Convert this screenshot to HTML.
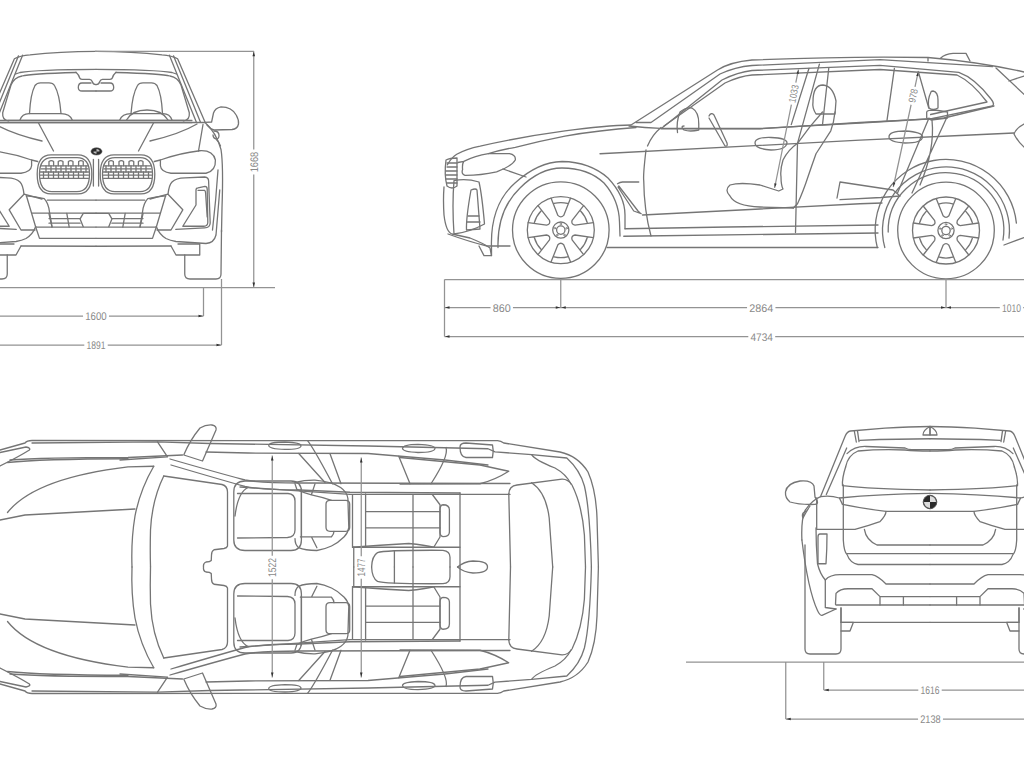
<!DOCTYPE html>
<html><head><meta charset="utf-8"><style>
html,body{margin:0;padding:0;background:#fff;}
svg{display:block}
.c{fill:none;stroke:#757575;stroke-width:1.3;stroke-linejoin:round;stroke-linecap:round}
.c path,.c circle,.c ellipse{fill:none}
.d{fill:none;stroke:#939393;stroke-width:1.25}
.t{font-family:"Liberation Sans",sans-serif;font-size:11px;fill:#8a8a8a;text-anchor:middle;text-rendering:geometricPrecision}
</style></head><body>
<svg width="1024" height="768" viewBox="0 0 1024 768">
<g>
<g class="c">
<path d="M96 51.3 C130 51.6 150 53.5 162 54.8 Q172 55.5 177.6 58.8 L205.1 122.3"/>
<path d="M169.4 55.2 L196.3 122"/>
<path d="M173.5 55.8 L200.4 122"/>
<path d="M96 69.4 C130 69.6 160 70.5 172 72.5 L176.4 74"/>
<path d="M116 72.5 C145 73.3 163 74 170 76 Q178 77.5 181 85 L189.3 112.7 Q190 120 183.4 120.9"/>
<path d="M116 72.3 Q113 75 112.3 78 Q112 79.3 110 79.3 L102.5 79.3 Q100.5 79.5 99.8 81.5 Q99 84.5 96 84.6"/>
<path d="M96 91 L110 91 Q113.7 91 113.7 87.5 Q113.7 83 110 83 L101 83"/>
<path d="M131 113.5 Q132.5 94 137.5 85.5 Q139 82.8 143 82.8 L151.5 82.8 Q155 82.8 157 85.5 Q161.5 94 162.5 113.5"/>
<path d="M119.75 120 Q122 114 131 113.7 L163 113.7 Q170 114 172 120"/>
<path d="M0 120.3 L184 120.3"/>
<path d="M0 122.5 L205 122.5"/>
<path d="M153.5 123 L138.5 151"/>
<path d="M150 141 Q180 134 197 124"/>
<path d="M100.2 174 Q100.2 154.8 114 154.8 L141 154.8 Q154.8 154.8 154.8 174 Q154.8 193.9 141 193.9 L114 193.9 Q100.2 193.9 100.2 174 Z"/>
<path d="M102.5 174 Q102.5 157.6 115 157.6 L140 157.6 Q152.5 157.6 152.5 174 Q152.5 191.6 140 191.6 L115 191.6 Q102.5 191.6 102.5 174 Z"/>
<path d="M104 165.8 L151 165.8 M103.5 172 L151.5 172 M103.5 178.3 L151.5 178.3 M104 168.9 L151 168.9 M103.5 175.2 L151.5 175.2"/>
<path d="M108.75 165.8 L108.75 161.5 Q111 159.8 113.4 161.5 L113.4 165.8 M119 165.8 L119 161.5 Q121.3 159.8 123.6 161.5 L123.6 165.8 M129 165.8 L129 161.5 Q131.4 159.8 133.75 161.5 L133.75 165.8 M138.4 165.8 L138.4 161.5 Q140.7 159.8 143 161.5 L143 165.8"/>
<path d="M106 165.8 L106 172 M111 165.8 L111 172 M116 165.8 L116 172 M121 165.8 L121 172 M126 165.8 L126 172 M131 165.8 L131 172 M136 165.8 L136 172 M141 165.8 L141 172 M146 165.8 L146 172"/>
<path d="M108.5 172 L108.5 178.3 M113.5 172 L113.5 178.3 M118.5 172 L118.5 178.3 M123.5 172 L123.5 178.3 M128.5 172 L128.5 178.3 M133.5 172 L133.5 178.3 M138.5 172 L138.5 178.3 M143.5 172 L143.5 178.3 M148.5 172 L148.5 178.3"/>
<path d="M98.6 159.5 L98.6 186"/>
<path d="M154.3 161.5 L160.4 160"/>
<path d="M160.4 160 Q180 153 199.75 150.75 Q213 150 215.4 160 Q216 171 206 173.25 L171 173.25 Q161 172 160.4 165.75 Z"/>
<path d="M198.5 151 L203 124.5"/>
<path d="M205 122.5 Q216 132 221 149.5 Q223.5 165 222 208 L221.5 232"/>
<path d="M214 131 Q219 131 219 135.5 Q219 139 216 139 Q213 138 213 135 M216 139 Q219 142 220.5 146"/>
<path d="M205.1 122.3 L211.6 122 L213.5 113 Q215 108 221 106.8 Q232 107 236.2 115 Q239 120 238.5 124 Q237.5 129 232 129.5 L214 130 Q210 129 207 125"/>
<path d="M218 170 Q216 200 212.5 230"/>
<path d="M168 194.2 Q169 185 172 182 Q176 178 185 177.8 L204.7 177 Q208.6 177.5 208.6 181 L210.2 223 Q210 227.8 204.7 227.8 L175.8 229.4"/>
<path d="M196 205 L196 190 Q196 188 198 187.8 L205 186.4 Q207 186.5 207.2 189 L207.8 222.5 Q207.5 226.25 204 226.25 L182.8 226.25 L196 205"/>
<path d="M198 190.3 L204.5 190.3 Q205.5 191 205.6 193 L207.2 216.9"/>
<path d="M150 199 L168 194.2 L182.8 209.8 L171 230 L157 230"/>
<path d="M165.6 195.8 L156.4 226.7"/>
<path d="M96 200.2 L144.7 200.2"/>
<path d="M147.8 198.6 Q157 196.5 165.8 195.9 M147.8 198.6 Q143.5 203 142.5 212 L140 226.7"/>
<path d="M96 213.2 L160.3 213.2 M111.9 218.6 L143 218.6 M111.9 223.2 L143 223.2 M96 227.1 L156.4 227.1"/>
<path d="M96 213.4 L108.75 213.4 L111.9 218.9 L108.75 226.7"/>
<path d="M125.2 213.4 L122.8 227.1 M143.1 213.4 L140 227.1"/>
<path d="M96 238.4 L152.5 238.4 L156.4 226.7"/>
<path d="M156.4 226.7 Q159 234 166 238.5 Q170 240.5 176 241.5 L206 243.5 Q214 243 216 235 L219.75 190"/>
<path d="M96 246.25 L171 246"/>
<path d="M171 246 L176 255 L199.75 255 L199.75 244 L178 244"/>
<path d="M184.75 255 L184.75 274 Q184.75 279 190 279 L216 279 Q221 279 221 274 L221.5 230"/>
<path d="M126.5 120 Q132 110 147 110 Q162 110 168 120"/></g>
<g class="c" transform="matrix(-1 0 0 1 192 0)">
<path d="M96 51.3 C130 51.6 150 53.5 162 54.8 Q172 55.5 177.6 58.8 L205.1 122.3"/>
<path d="M169.4 55.2 L196.3 122"/>
<path d="M173.5 55.8 L200.4 122"/>
<path d="M96 69.4 C130 69.6 160 70.5 172 72.5 L176.4 74"/>
<path d="M116 72.5 C145 73.3 163 74 170 76 Q178 77.5 181 85 L189.3 112.7 Q190 120 183.4 120.9"/>
<path d="M116 72.3 Q113 75 112.3 78 Q112 79.3 110 79.3 L102.5 79.3 Q100.5 79.5 99.8 81.5 Q99 84.5 96 84.6"/>
<path d="M96 91 L110 91 Q113.7 91 113.7 87.5 Q113.7 83 110 83 L101 83"/>
<path d="M131 113.5 Q132.5 94 137.5 85.5 Q139 82.8 143 82.8 L151.5 82.8 Q155 82.8 157 85.5 Q161.5 94 162.5 113.5"/>
<path d="M119.75 120 Q122 114 131 113.7 L163 113.7 Q170 114 172 120"/>
<path d="M0 120.3 L184 120.3"/>
<path d="M0 122.5 L205 122.5"/>
<path d="M153.5 123 L138.5 151"/>
<path d="M150 141 Q180 134 197 124"/>
<path d="M100.2 174 Q100.2 154.8 114 154.8 L141 154.8 Q154.8 154.8 154.8 174 Q154.8 193.9 141 193.9 L114 193.9 Q100.2 193.9 100.2 174 Z"/>
<path d="M102.5 174 Q102.5 157.6 115 157.6 L140 157.6 Q152.5 157.6 152.5 174 Q152.5 191.6 140 191.6 L115 191.6 Q102.5 191.6 102.5 174 Z"/>
<path d="M104 165.8 L151 165.8 M103.5 172 L151.5 172 M103.5 178.3 L151.5 178.3 M104 168.9 L151 168.9 M103.5 175.2 L151.5 175.2"/>
<path d="M108.75 165.8 L108.75 161.5 Q111 159.8 113.4 161.5 L113.4 165.8 M119 165.8 L119 161.5 Q121.3 159.8 123.6 161.5 L123.6 165.8 M129 165.8 L129 161.5 Q131.4 159.8 133.75 161.5 L133.75 165.8 M138.4 165.8 L138.4 161.5 Q140.7 159.8 143 161.5 L143 165.8"/>
<path d="M106 165.8 L106 172 M111 165.8 L111 172 M116 165.8 L116 172 M121 165.8 L121 172 M126 165.8 L126 172 M131 165.8 L131 172 M136 165.8 L136 172 M141 165.8 L141 172 M146 165.8 L146 172"/>
<path d="M108.5 172 L108.5 178.3 M113.5 172 L113.5 178.3 M118.5 172 L118.5 178.3 M123.5 172 L123.5 178.3 M128.5 172 L128.5 178.3 M133.5 172 L133.5 178.3 M138.5 172 L138.5 178.3 M143.5 172 L143.5 178.3 M148.5 172 L148.5 178.3"/>
<path d="M98.6 159.5 L98.6 186"/>
<path d="M154.3 161.5 L160.4 160"/>
<path d="M160.4 160 Q180 153 199.75 150.75 Q213 150 215.4 160 Q216 171 206 173.25 L171 173.25 Q161 172 160.4 165.75 Z"/>
<path d="M198.5 151 L203 124.5"/>
<path d="M205 122.5 Q216 132 221 149.5 Q223.5 165 222 208 L221.5 232"/>
<path d="M214 131 Q219 131 219 135.5 Q219 139 216 139 Q213 138 213 135 M216 139 Q219 142 220.5 146"/>
<path d="M205.1 122.3 L211.6 122 L213.5 113 Q215 108 221 106.8 Q232 107 236.2 115 Q239 120 238.5 124 Q237.5 129 232 129.5 L214 130 Q210 129 207 125"/>
<path d="M218 170 Q216 200 212.5 230"/>
<path d="M168 194.2 Q169 185 172 182 Q176 178 185 177.8 L204.7 177 Q208.6 177.5 208.6 181 L210.2 223 Q210 227.8 204.7 227.8 L175.8 229.4"/>
<path d="M196 205 L196 190 Q196 188 198 187.8 L205 186.4 Q207 186.5 207.2 189 L207.8 222.5 Q207.5 226.25 204 226.25 L182.8 226.25 L196 205"/>
<path d="M198 190.3 L204.5 190.3 Q205.5 191 205.6 193 L207.2 216.9"/>
<path d="M150 199 L168 194.2 L182.8 209.8 L171 230 L157 230"/>
<path d="M165.6 195.8 L156.4 226.7"/>
<path d="M96 200.2 L144.7 200.2"/>
<path d="M147.8 198.6 Q157 196.5 165.8 195.9 M147.8 198.6 Q143.5 203 142.5 212 L140 226.7"/>
<path d="M96 213.2 L160.3 213.2 M111.9 218.6 L143 218.6 M111.9 223.2 L143 223.2 M96 227.1 L156.4 227.1"/>
<path d="M96 213.4 L108.75 213.4 L111.9 218.9 L108.75 226.7"/>
<path d="M125.2 213.4 L122.8 227.1 M143.1 213.4 L140 227.1"/>
<path d="M96 238.4 L152.5 238.4 L156.4 226.7"/>
<path d="M156.4 226.7 Q159 234 166 238.5 Q170 240.5 176 241.5 L206 243.5 Q214 243 216 235 L219.75 190"/>
<path d="M96 246.25 L171 246"/>
<path d="M171 246 L176 255 L199.75 255 L199.75 244 L178 244"/>
<path d="M184.75 255 L184.75 274 Q184.75 279 190 279 L216 279 Q221 279 221 274 L221.5 230"/>
</g>
<ellipse cx="96.5" cy="151.4" rx="5.5" ry="3.6" fill="#2a2a2a" stroke="#555" stroke-width="0.6"/><path d="M96.5 149 A3 2 0 0 1 99.5 151.4 L96.5 151.4Z M96.5 153.8 A3 2 0 0 1 93.5 151.4 L96.5 151.4Z" fill="#bbb"/>
<g class="c"><circle cx="560.8" cy="230.1" r="48.3"/><circle cx="560.8" cy="230.1" r="33.5"/><circle cx="560.8" cy="230.1" r="8.1"/><circle cx="560.8" cy="230.1" r="4.2"/><circle cx="560.80" cy="224.00" r="0.8" style="stroke-width:0.8"/><circle cx="566.60" cy="228.21" r="0.8" style="stroke-width:0.8"/><circle cx="564.39" cy="235.04" r="0.8" style="stroke-width:0.8"/><circle cx="557.21" cy="235.04" r="0.8" style="stroke-width:0.8"/><circle cx="555.00" cy="228.21" r="0.8" style="stroke-width:0.8"/><path d="M551.0 198.1 L557.9 215.4 Q560.8 218.5 563.7 215.4 L570.6 198.1 M554.1 203.4 A27.5 27.5 0 0 1 567.5 203.4"/><path d="M583.6 205.6 L572.1 220.3 Q570.8 224.3 575.0 225.2 L593.4 222.6 M580.6 211.0 A27.5 27.5 0 0 1 587.2 222.5"/><path d="M593.4 237.6 L575.0 235.0 Q570.8 235.9 572.1 239.9 L583.6 254.6 M587.2 237.7 A27.5 27.5 0 0 1 580.6 249.2"/><path d="M570.6 262.1 L563.7 244.8 Q560.8 241.7 557.9 244.8 L551.0 262.1 M567.5 256.8 A27.5 27.5 0 0 1 554.1 256.8"/><path d="M538.0 254.6 L549.5 239.9 Q550.8 235.9 546.6 235.0 L528.2 237.6 M541.0 249.2 A27.5 27.5 0 0 1 534.4 237.7"/><path d="M528.2 222.6 L546.6 225.2 Q550.8 224.3 549.5 220.3 L538.0 205.6 M534.4 222.5 A27.5 27.5 0 0 1 541.0 211.0"/><circle cx="946" cy="230.5" r="48.3"/><circle cx="946" cy="230.5" r="33.5"/><circle cx="946" cy="230.5" r="8.1"/><circle cx="946" cy="230.5" r="4.2"/><circle cx="946.00" cy="224.40" r="0.8" style="stroke-width:0.8"/><circle cx="951.80" cy="228.61" r="0.8" style="stroke-width:0.8"/><circle cx="949.59" cy="235.44" r="0.8" style="stroke-width:0.8"/><circle cx="942.41" cy="235.44" r="0.8" style="stroke-width:0.8"/><circle cx="940.20" cy="228.61" r="0.8" style="stroke-width:0.8"/><path d="M936.2 198.5 L943.1 215.8 Q946.0 218.9 948.9 215.8 L955.8 198.5 M939.3 203.8 A27.5 27.5 0 0 1 952.7 203.8"/><path d="M968.8 206.0 L957.3 220.7 Q956.0 224.7 960.2 225.6 L978.6 223.0 M965.8 211.4 A27.5 27.5 0 0 1 972.4 222.9"/><path d="M978.6 238.0 L960.2 235.4 Q956.0 236.3 957.3 240.3 L968.8 255.0 M972.4 238.1 A27.5 27.5 0 0 1 965.8 249.6"/><path d="M955.8 262.5 L948.9 245.2 Q946.0 242.1 943.1 245.2 L936.2 262.5 M952.7 257.2 A27.5 27.5 0 0 1 939.3 257.2"/><path d="M923.2 255.0 L934.7 240.3 Q936.0 236.3 931.8 235.4 L913.4 238.0 M926.2 249.6 A27.5 27.5 0 0 1 919.6 238.1"/><path d="M913.4 223.0 L931.8 225.6 Q936.0 224.7 934.7 220.7 L923.2 206.0 M919.6 222.9 A27.5 27.5 0 0 1 926.2 211.4"/></g>
<g class="c">
<path d="M447.3 164.9 Q452 157 456.7 154.3 Q466 149 480.2 146.1 Q520 137 565 130.9 Q605 125.5 631 125 L717.5 70 Q730 62 752 60 Q850 56 928 57.5 Q980 62 1024 72"/>
<path d="M488.4 153.7 Q500 150 515.3 147.3 Q540 141 565 136.1 Q600 130 636 127.5"/>
<path d="M636 122.5 Q645 122.5 651 122.5 L720 74 Q735 67 752 65.5 L880 59.7 L992.5 66.7"/>
<path d="M661 128.75 L722 80 Q738 72 752 70.5 L880 65.3 L958.8 72.3 Q975 78 991 99 Q995 104 992.5 106 L930.6 118.8 L860 122.5 L760 128.75 L661 128.75"/>
<path d="M664 126 L725 83 Q740 76 752 75 L880 69.5 L957 75 Q972 82 987 102 L930.6 114.5"/>
<path d="M940.5 58.3 Q945 54 953 53.4 L966 53.4 L970 61"/>
<path d="M928 57.6 L928 61"/>
<path d="M629 126 Q645 128 660.6 128.4 L760 128.5 L860 123 L944 118 L994 106"/>
<path d="M600 153.75 L760 145.4 L860 140.2 L960 135.5 L1014 133"/>
<path d="M996 68 L1024 94.3 M1009 81 L1024 76"/>
<path d="M1024 124 Q1016 128 1014 134 Q1018 142 1024 147"/>
<path d="M503 169 L526 177"/>
<path d="M463.8 161.3 Q475 156 488.4 153.7 L509.5 153.7 Q516 155 515.3 160 Q512 166 496.6 171.9 Q480 175.5 465 175.4 Q461 174 462.6 169.5 Q462 164 463.8 161.3Z M457.9 162.5 L463.8 161.3"/>
<path d="M446 160 Q450 158 457 158 L457 186 Q452 190 447 186 Q444 175 446 160 Z"/>
<path d="M447 163 L457 163 M447 167 L457 167 M446 171 L457 171 M446 175 L457 175 M446 179 L457 179 M447 183 L457 183"/>
<path d="M444 187 Q443 200 444 215 Q446 232 452 234 L470 238 Q485 244 490 248 L491.5 255.6 L484 255.6 L479 246"/>
<path d="M454 180.6 Q466 178 479 182 Q482 195 484.5 224 Q470 232 454 234 Q452 205 454 180.6Z"/>
<path d="M471 190 Q476 188 477 190 L480 229 L466.5 230 Q466 218 471 190Z"/>
<path d="M468 216 L479 216 M467 222 L480 222"/>
<path d="M448 234 Q470 242 487 246 L510 246"/>
<path d="M491.5 255.6 L491.5 247.5 Q490 205 515 183 Q538 162 562 161.5 Q590 162 608 178 Q625 196 625 215 L625 228.75"/>
<path d="M498 247.5 Q497 210 520 188 Q540 168 562 168 Q588 168 604 183 Q619 200 619.5 222 L620 236"/>
<path d="M625 228.75 L728 227 L878 225"/>
<path d="M623.75 236.25 L878 233"/>
<path d="M607 247.5 L878 247.5 M1004 245 L1024 237.5"/>
<path d="M617.5 183.75 Q620 182 622.5 182 L638.75 182 M618.75 186 L638 211 Q641 214 641.25 213.75 L633.75 211 L618 187"/>
<path d="M646 150 Q643 175 643.75 181 Q644 210 651 236"/>
<path d="M642.5 215 L760 209 L860 203.75 L882 203"/>
<path d="M647.5 146 Q652 135 661 127.5"/>
<path d="M677.5 132.5 Q676 122 680 112 Q686 107 692 108 Q699 112 698.75 124 L698.75 130 Q690 132 684 130 Q680 126 684 126"/>
<path d="M709 116 Q711 112 714 115 L727 143 Q728 147 725 146 L709 118"/>
<path d="M755 143 Q755 137 771 137.5 Q787 138 787 143 Q786 150 771 150 Q755 149 755 143Z"/>
<path d="M819.4 64.2 L797.5 143.3 L795.5 232.5"/>
<path d="M809 68.3 L791.25 124.6"/>
<path d="M828.75 68.3 L822.5 124.6"/>
<path d="M813 101.7 Q813 85 823 85 Q833 86 836 101 L835 114 L816 114 Q812 108 813 101.7Z"/>
<path d="M835 112 Q834 122 830.8 130.8 L816 153.75 Q812 165 808 176.7 Q803 192 797.5 203.75 L793.3 208"/>
<path d="M822.5 112 L810 126.7 L797.5 143.3 Q788 150 783 160 Q780 170 781 176.7 Q781 185 783 189 L778.75 191 L760 185 Q740 182 730 185 Q724 190 730 196 Q735 206 760 207 L793.3 208"/>
<path d="M887 120.4 L894.4 68.3"/>
<path d="M931 92 Q931 91 933 91 Q938 92 938 100 L938 108 Q933 111 929 108 Q927 100 931 92Z"/>
<path d="M918.3 71.5 L928.75 108"/>
<path d="M926.7 112 Q927 110 935 110 L947.5 112 L947.5 118 L931 120 L926.7 118Z"/>
<path d="M929 118 L897.5 193 M947.5 116 L912 193 M932 120 Q935 150 920 185"/>
<path d="M889 137 Q889 131 905 131 Q922.5 132 922.5 137 Q922 143 905 143 Q889 142 889 137Z"/>
<path d="M837 198 L840 182 L893 190 L900 196 L881 197.5 L840 199.6"/>
<path d="M877.3 247.5 A70.8 70.8 0 1 1 1016.4 223.1"/>
<path d="M884.8 247.5 A63.5 63.5 0 1 1 1009.0 238.2"/>
<path d="M888.2 232.0 A57.8 57.8 0 1 1 1003.0 240.0"/>
</g>
<g class="c">
<path d="M0 450 L25 443 Q27 440.5 32 440.5 L497.5 440.6 Q501 441 503.75 443 L560 452 Q578 456 588 472 Q596 490 597 518 L598.4 567"/>
<path d="M0 452.5 L26 447 Q31 448 29.4 450 Q20 456 0 466"/>
<path d="M10 460 Q40 457.5 128 457.5 L182.5 455"/>
<path d="M7.5 462.5 Q40 459 128 458.75"/>
<path d="M32 443 L157.5 441.9 L210 443.5 L368 446 L488 448.75 L495 451.9 L531.6 454.6 L566.8 458 Q580 470 584.4 486 Q590 510 591.4 567"/>
<path d="M531.6 454.6 Q535 460 555 468 Q566 474 571 484"/>
<path d="M206 452 L248 453 L368 453.5 L445 460 L488 465"/>
<path d="M480 465 L508.75 471.25 Q495 480 480 483.75 L400 484 M400 457.5 L480 465"/>
<path d="M7.5 512.5 Q35 478 128 466.9 L153.75 466.25"/>
<path d="M0 520 L25 515 L135 509"/>
<path d="M157.5 441.9 L167.5 456.9 L120 460"/>
<path d="M153.75 466.25 Q140 490 135 516 Q131 540 132 567"/>
<path d="M163.75 476 Q152 500 150.5 530 Q150 550 150.5 567"/>
<path d="M163.75 476 L222 484.5 Q227.5 486 227.5 492 L227.5 546 Q227 548 224 548.5 L214 549.75 Q211.5 551 211.5 555 L211.25 560.5 Q210 562 206 562 Q203 563 203.5 567"/>
<path d="M170 459 Q215 472 245 480 Q260 483 300 483 L510 483.5"/>
<path d="M171 465 Q215 478 245 486.5 Q262 490 300 490 L350 492.25 L460 493"/>
<path d="M183.75 455 Q190 440 200 428 Q206 424.5 212 425 Q217 426 216 430 L202.5 461 Z"/>
<path d="M268.75 445.5 Q269 442 285 442 Q301 442.5 301 446 Q300.5 449.4 285 449.4 Q269 449 268.75 445.5Z"/>
<path d="M402.5 448.5 Q403 444.4 418 444.4 Q435 445 435 448.5 Q434.5 452.5 418 452.5 Q403 452 402.5 448.5Z"/>
<path d="M460 447 Q460 443 466 443 L492.5 445 Q494 451 492.5 457.5 L466 457.5 Q460 457 460 447Z"/>
<path d="M298.75 453.5 L325 482.5 M307.5 440.6 Q313 447 332.5 483.75 M330 453.75 L341 483.75"/>
<path d="M398.75 456.25 L410 483.75 M446 447.5 Q449 456 431 483.75"/>
<path d="M235 516 Q238 492 248 487.5"/>
<path d="M240 487 L350 494.4 L510 494.4"/>
<path d="M508.8 494 Q509 486 517 485 L562 479.2 Q568 479 572 485 Q582 505 584.4 535 L585.5 567"/>
<path d="M508.8 494 L510.5 567"/>
<path d="M531.6 482.7 Q546 492 549.2 518 L552.7 567"/>
<path d="M245 481 L291 481 Q301.4 481 301.4 492 L301.4 540 Q301.4 550.5 291 550.5 L245 550.5 Q233.8 550.5 233.8 540 L233.8 492 Q233.8 481 245 481Z"/>
<path d="M237.5 493.5 L288 493.5 Q295 494 295 501 L295 530 Q295 537 287.5 537.5 L237.5 538"/>
<path d="M295 482.5 Q305 480 315 480.2 Q333 482 340.6 487.5 Q347 492 347.9 498.5 L348.8 527.7 Q348 533 344.2 536.8 Q338 543 331.5 546 Q324 549.5 316.9 550.5 Q305 550.5 298.6 547.7 Q295 545 295 538.6"/>
<path d="M295 483.9 L296.8 489.3 Q304 493 311.4 494.8 L315 483.9 M311.4 494.8 Q322 497 331.5 500.3"/>
<path d="M330 500.3 L345.7 500.3 Q349.7 500.3 349.7 504.3 L349.7 527.3 Q349.7 531.3 345.7 531.3 L330 531.3 Q326 531.3 326 527.3 L326 504.3 Q326 500.3 330 500.3Z"/>
<path d="M300.4 536.8 L311.4 536.8 L316.9 547.7 M311.4 536.8 Q322 537 331.5 536.8 Q334 534 334 531.3"/>
<path d="M301.4 489 L301.4 538"/>
<path d="M352.5 494.75 L352.5 547.25 L460 547.25"/>
<path d="M365.6 494 L365.6 547.25"/>
<path d="M460 493 L460 567"/>
<path d="M365.6 511.6 L440 511.6 M365.6 527.9 L440 527.9"/>
<path d="M413 494.75 L413 567"/>
<path d="M432.5 494.75 L440 504.75 L440 537 L433.75 547.25"/>
<path d="M443 504.75 Q449.4 504.75 449.4 510 L449.4 532 Q449.4 536.6 443 536.6 Q440 536 440 532 L440 510 Q440 505 443 504.75Z"/>
<path d="M352.5 547.25 Q380 545 408.75 543.5 Q425 545 433.75 547.25"/>
<path d="M353.75 547.25 L353.75 567"/>
<path d="M371.6 567 Q372 556 377.5 552.6 Q385 550 443 550.3 Q450 551 450 557.3 L450 567"/>
<path d="M394.4 551 L394.4 567"/>
<path d="M457.5 567 Q464 561.5 473 561 Q487.5 561 487.5 567"/>
</g>
<g class="c" transform="matrix(1 0 0 -1 0 1134)">
<path d="M0 450 L25 443 Q27 440.5 32 440.5 L497.5 440.6 Q501 441 503.75 443 L560 452 Q578 456 588 472 Q596 490 597 518 L598.4 567"/>
<path d="M0 452.5 L26 447 Q31 448 29.4 450 Q20 456 0 466"/>
<path d="M10 460 Q40 457.5 128 457.5 L182.5 455"/>
<path d="M7.5 462.5 Q40 459 128 458.75"/>
<path d="M32 443 L157.5 441.9 L210 443.5 L368 446 L488 448.75 L495 451.9 L531.6 454.6 L566.8 458 Q580 470 584.4 486 Q590 510 591.4 567"/>
<path d="M531.6 454.6 Q535 460 555 468 Q566 474 571 484"/>
<path d="M206 452 L248 453 L368 453.5 L445 460 L488 465"/>
<path d="M480 465 L508.75 471.25 Q495 480 480 483.75 L400 484 M400 457.5 L480 465"/>
<path d="M7.5 512.5 Q35 478 128 466.9 L153.75 466.25"/>
<path d="M0 520 L25 515 L135 509"/>
<path d="M157.5 441.9 L167.5 456.9 L120 460"/>
<path d="M153.75 466.25 Q140 490 135 516 Q131 540 132 567"/>
<path d="M163.75 476 Q152 500 150.5 530 Q150 550 150.5 567"/>
<path d="M163.75 476 L222 484.5 Q227.5 486 227.5 492 L227.5 546 Q227 548 224 548.5 L214 549.75 Q211.5 551 211.5 555 L211.25 560.5 Q210 562 206 562 Q203 563 203.5 567"/>
<path d="M170 459 Q215 472 245 480 Q260 483 300 483 L510 483.5"/>
<path d="M171 465 Q215 478 245 486.5 Q262 490 300 490 L350 492.25 L460 493"/>
<path d="M183.75 455 Q190 440 200 428 Q206 424.5 212 425 Q217 426 216 430 L202.5 461 Z"/>
<path d="M268.75 445.5 Q269 442 285 442 Q301 442.5 301 446 Q300.5 449.4 285 449.4 Q269 449 268.75 445.5Z"/>
<path d="M402.5 448.5 Q403 444.4 418 444.4 Q435 445 435 448.5 Q434.5 452.5 418 452.5 Q403 452 402.5 448.5Z"/>
<path d="M460 447 Q460 443 466 443 L492.5 445 Q494 451 492.5 457.5 L466 457.5 Q460 457 460 447Z"/>
<path d="M298.75 453.5 L325 482.5 M307.5 440.6 Q313 447 332.5 483.75 M330 453.75 L341 483.75"/>
<path d="M398.75 456.25 L410 483.75 M446 447.5 Q449 456 431 483.75"/>
<path d="M235 516 Q238 492 248 487.5"/>
<path d="M240 487 L350 494.4 L510 494.4"/>
<path d="M508.8 494 Q509 486 517 485 L562 479.2 Q568 479 572 485 Q582 505 584.4 535 L585.5 567"/>
<path d="M508.8 494 L510.5 567"/>
<path d="M531.6 482.7 Q546 492 549.2 518 L552.7 567"/>
<path d="M245 481 L291 481 Q301.4 481 301.4 492 L301.4 540 Q301.4 550.5 291 550.5 L245 550.5 Q233.8 550.5 233.8 540 L233.8 492 Q233.8 481 245 481Z"/>
<path d="M237.5 493.5 L288 493.5 Q295 494 295 501 L295 530 Q295 537 287.5 537.5 L237.5 538"/>
<path d="M295 482.5 Q305 480 315 480.2 Q333 482 340.6 487.5 Q347 492 347.9 498.5 L348.8 527.7 Q348 533 344.2 536.8 Q338 543 331.5 546 Q324 549.5 316.9 550.5 Q305 550.5 298.6 547.7 Q295 545 295 538.6"/>
<path d="M295 483.9 L296.8 489.3 Q304 493 311.4 494.8 L315 483.9 M311.4 494.8 Q322 497 331.5 500.3"/>
<path d="M330 500.3 L345.7 500.3 Q349.7 500.3 349.7 504.3 L349.7 527.3 Q349.7 531.3 345.7 531.3 L330 531.3 Q326 531.3 326 527.3 L326 504.3 Q326 500.3 330 500.3Z"/>
<path d="M300.4 536.8 L311.4 536.8 L316.9 547.7 M311.4 536.8 Q322 537 331.5 536.8 Q334 534 334 531.3"/>
<path d="M301.4 489 L301.4 538"/>
<path d="M352.5 494.75 L352.5 547.25 L460 547.25"/>
<path d="M365.6 494 L365.6 547.25"/>
<path d="M460 493 L460 567"/>
<path d="M365.6 511.6 L440 511.6 M365.6 527.9 L440 527.9"/>
<path d="M413 494.75 L413 567"/>
<path d="M432.5 494.75 L440 504.75 L440 537 L433.75 547.25"/>
<path d="M443 504.75 Q449.4 504.75 449.4 510 L449.4 532 Q449.4 536.6 443 536.6 Q440 536 440 532 L440 510 Q440 505 443 504.75Z"/>
<path d="M352.5 547.25 Q380 545 408.75 543.5 Q425 545 433.75 547.25"/>
<path d="M353.75 547.25 L353.75 567"/>
<path d="M371.6 567 Q372 556 377.5 552.6 Q385 550 443 550.3 Q450 551 450 557.3 L450 567"/>
<path d="M394.4 551 L394.4 567"/>
<path d="M457.5 567 Q464 561.5 473 561 Q487.5 561 487.5 567"/>
</g>
<g class="c">
<path d="M801.9 540 Q801 520 805 510.6 Q812 500 820.6 496.6 L845 436.4 Q847 431.5 850.5 431 L885 428.2 Q910 426.8 930 426.5"/>
<path d="M854.3 431 L856.3 442 M857.5 430.8 L859 441.7"/>
<path d="M859.7 440.3 Q900 438.75 930 438.75"/>
<path d="M923 435 Q923 430 930 426.5 L930 435 Z"/>
<path d="M847 453.6 Q855 446 866 446.5 L905 448 Q908 449.7 912 449.7 L930 449.7"/>
<path d="M845.6 467 Q848 455 858 451 Q880 449 905 450 Q915 451 930 451"/>
<path d="M826.3 494.5 L846.7 448"/>
<path d="M845.6 467 Q842 478 842.5 485.6 Q870 489 930 490"/>
<path d="M839.4 498 Q880 494 930 493.4"/>
<path d="M842.5 504.4 Q860 508 886 511.4 L930 511.4"/>
<path d="M820.6 496.6 Q830 495 839.4 498 L842.5 504.4"/>
<path d="M843.3 485 L843.3 540 Q844 552 847 554.4 Q850 563 858 564.5 L930 564.5"/>
<path d="M816.7 498 L816.7 529.4 L855 529.4 Q870 525 880 521.6 Q886 515 886 511.4"/>
<path d="M785.5 492 Q787 483 800 481 Q812 480 814 486 L815 497 Q820 504 815 504.4 Q800 505 790 502 Q785 498 785.5 492Z"/>
<path d="M806 511 Q801 513 803 518 Q806 512 810 506"/>
<path d="M864.4 529.4 Q866 540 877 545 L930 545"/>
<path d="M847 553.6 L930 553.6"/>
<path d="M801.9 540 Q808 590 817.5 610.6 Q820 616 822 615.3 L836 609"/>
<path d="M816 527.8 Q816 545 817.5 563.75 Q820 574 825.3 580 L825.3 607.5 L836 609"/>
<path d="M820 534 L827 534 Q827 550 826 563.75 L818 563.75 L818 537 Q818 534 820 534Z"/>
<path d="M825.3 580 Q830 574.7 840 574.7 L872 574.7 Q878 576 886 584 L930 584"/>
<path d="M835.5 604.4 L836 593.4 Q840 588.75 848 588.75 L872 588.75 L880 596.6 L880 605 M880 596.6 L930 596.6"/>
<path d="M903.4 596.6 L903.4 605"/>
<path d="M836 605 L930 605"/>
<path d="M841 622.3 L930 622.3"/>
<path d="M841 608 L841 622.3 L853.4 622.3 L850 631 L841 631"/>
<path d="M805 545 L805 649 Q805 654 810 654 L836 654 Q841 654 841 649 L841 608"/>
</g>
<g class="c" transform="matrix(-1 0 0 1 1860 0)">
<path d="M801.9 540 Q801 520 805 510.6 Q812 500 820.6 496.6 L845 436.4 Q847 431.5 850.5 431 L885 428.2 Q910 426.8 930 426.5"/>
<path d="M854.3 431 L856.3 442 M857.5 430.8 L859 441.7"/>
<path d="M859.7 440.3 Q900 438.75 930 438.75"/>
<path d="M923 435 Q923 430 930 426.5 L930 435 Z"/>
<path d="M847 453.6 Q855 446 866 446.5 L905 448 Q908 449.7 912 449.7 L930 449.7"/>
<path d="M845.6 467 Q848 455 858 451 Q880 449 905 450 Q915 451 930 451"/>
<path d="M826.3 494.5 L846.7 448"/>
<path d="M845.6 467 Q842 478 842.5 485.6 Q870 489 930 490"/>
<path d="M839.4 498 Q880 494 930 493.4"/>
<path d="M842.5 504.4 Q860 508 886 511.4 L930 511.4"/>
<path d="M820.6 496.6 Q830 495 839.4 498 L842.5 504.4"/>
<path d="M843.3 485 L843.3 540 Q844 552 847 554.4 Q850 563 858 564.5 L930 564.5"/>
<path d="M816.7 498 L816.7 529.4 L855 529.4 Q870 525 880 521.6 Q886 515 886 511.4"/>
<path d="M785.5 492 Q787 483 800 481 Q812 480 814 486 L815 497 Q820 504 815 504.4 Q800 505 790 502 Q785 498 785.5 492Z"/>
<path d="M806 511 Q801 513 803 518 Q806 512 810 506"/>
<path d="M864.4 529.4 Q866 540 877 545 L930 545"/>
<path d="M847 553.6 L930 553.6"/>
<path d="M801.9 540 Q808 590 817.5 610.6 Q820 616 822 615.3 L836 609"/>
<path d="M816 527.8 Q816 545 817.5 563.75 Q820 574 825.3 580 L825.3 607.5 L836 609"/>
<path d="M820 534 L827 534 Q827 550 826 563.75 L818 563.75 L818 537 Q818 534 820 534Z"/>
<path d="M825.3 580 Q830 574.7 840 574.7 L872 574.7 Q878 576 886 584 L930 584"/>
<path d="M835.5 604.4 L836 593.4 Q840 588.75 848 588.75 L872 588.75 L880 596.6 L880 605 M880 596.6 L930 596.6"/>
<path d="M903.4 596.6 L903.4 605"/>
<path d="M836 605 L930 605"/>
<path d="M841 622.3 L930 622.3"/>
<path d="M841 608 L841 622.3 L853.4 622.3 L850 631 L841 631"/>
<path d="M805 545 L805 649 Q805 654 810 654 L836 654 Q841 654 841 649 L841 608"/>
</g>
<circle cx="930" cy="502" r="6.8" fill="#2a2a2a" stroke="#555"/>
<path d="M930 496 A6 6 0 0 1 936 502 L930 502Z M930 508 A6 6 0 0 1 924 502 L930 502Z" fill="#ddd"/>
<g class="d"><path d="M95 51.25 L254 51.25 M0 287.5 L275 287.5 M203.5 287.5 L203.5 316 M221.5 279 L221.5 345 M253.75 51.25 L253.75 149.55 M253.75 174.45 L253.75 287.5 M-10 316 L83.05 316 M108.95 316 L203.5 316 M-10 345 L84.30 345 M107.70 345 L221.5 345 M444.5 279.5 L1024 279.5 M444.5 279.5 L444.5 336.5 M560.75 279.5 L560.75 307.5 M946 279.5 L946 307.5 M444.5 307.5 L490.55 307.5 M512.95 307.5 L560.75 307.5 M560.75 307.5 L747.05 307.5 M775.45 307.5 L946 307.5 M946 307.5 L999.80 307.5 M1023.20 307.5 L1040 307.5 M444.5 336.5 L748.30 336.5 M775.20 336.5 L1040 336.5 M798.5 69.4 L795.81 82.73 M791.39 104.69 L774.6 188 M918.3 71.5 L915.00 86.76 M911.10 104.75 L893.3 187 M272.25 455.6 L272.25 555.80 M272.25 579.20 L272.25 677.5 M361.25 457.5 L361.25 556.30 M361.25 578.70 L361.25 677.5 M686 662 L1024 662 M785.75 662 L785.75 719 M823.75 662 L823.75 690 M823.75 690 L918.30 690 M941.70 690 L1040 690 M785.75 719 L918.05 719 M942.95 719 L1040 719"/></g>
<path fill="#333" stroke="none" d="M253.75 51.75 L255.05 56.25 L252.45 56.25Z M253.75 287.00 L252.45 282.50 L255.05 282.50Z M203.00 316.00 L198.50 317.30 L198.50 314.70Z M221.00 345.00 L216.50 346.30 L216.50 343.70Z M445.00 307.50 L449.50 306.20 L449.50 308.80Z M560.25 307.50 L555.75 308.80 L555.75 306.20Z M561.25 307.50 L565.75 306.20 L565.75 308.80Z M945.50 307.50 L941.00 308.80 L941.00 306.20Z M946.50 307.50 L951.00 306.20 L951.00 308.80Z M445.00 336.50 L449.50 335.20 L449.50 337.80Z M798.40 69.89 L798.79 74.05 L796.43 73.57Z M774.70 187.51 L774.31 183.35 L776.67 183.83Z M918.19 71.99 L918.52 76.15 L916.18 75.64Z M893.41 186.51 L893.08 182.35 L895.42 182.86Z M272.25 456.10 L273.55 460.60 L270.95 460.60Z M272.25 677.00 L270.95 672.50 L273.55 672.50Z M361.25 458.00 L362.55 462.50 L359.95 462.50Z M361.25 677.00 L359.95 672.50 L362.55 672.50Z M824.25 690.00 L828.75 688.70 L828.75 691.30Z M786.25 719.00 L790.75 717.70 L790.75 720.30Z"/>
<text class="t" transform="translate(257.75,162) rotate(-90)" x="0" y="0" textLength="20.5" lengthAdjust="spacingAndGlyphs">1668</text>
<text class="t" x="96" y="320" textLength="21.5" lengthAdjust="spacingAndGlyphs">1600</text>
<text class="t" x="96" y="349" textLength="19" lengthAdjust="spacingAndGlyphs">1891</text>
<text class="t" x="501.75" y="311.5" textLength="18" lengthAdjust="spacingAndGlyphs">860</text>
<text class="t" x="761.25" y="311.5" textLength="24" lengthAdjust="spacingAndGlyphs">2864</text>
<text class="t" x="1011.5" y="311.5" textLength="19" lengthAdjust="spacingAndGlyphs">1010</text>
<text class="t" x="761.75" y="340.5" textLength="22.5" lengthAdjust="spacingAndGlyphs">4734</text>
<text class="t" transform="translate(797.03,94.40) rotate(-78.6)" x="0" y="0" textLength="18" lengthAdjust="spacingAndGlyphs" style="font-size:10px">1033</text>
<text class="t" transform="translate(916.47,96.50) rotate(-77.8)" x="0" y="0" textLength="14" lengthAdjust="spacingAndGlyphs" style="font-size:10px">978</text>
<text class="t" transform="translate(276.25,567.5) rotate(-90)" x="0" y="0" textLength="19" lengthAdjust="spacingAndGlyphs">1522</text>
<text class="t" transform="translate(365.25,567.5) rotate(-90)" x="0" y="0" textLength="18" lengthAdjust="spacingAndGlyphs">1477</text>
<text class="t" x="930" y="694" textLength="19" lengthAdjust="spacingAndGlyphs">1616</text>
<text class="t" x="930.5" y="723" textLength="20.5" lengthAdjust="spacingAndGlyphs">2138</text>
</g>
</svg>
</body></html>
